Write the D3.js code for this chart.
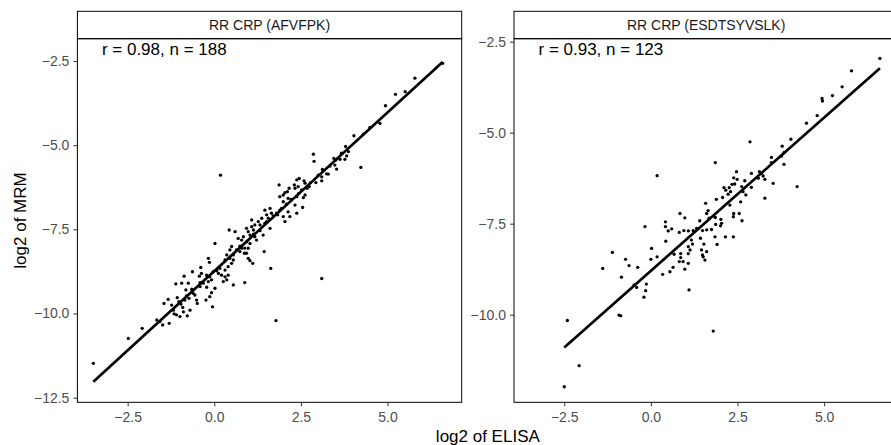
<!DOCTYPE html>
<html>
<head>
<meta charset="utf-8">
<script src="https://cdn.jsdelivr.net/npm/d3@7"></script>
<style>
  body { margin: 0; background: #fff; }
  text { font-family: "Liberation Sans", Arial, sans-serif; }
</style>
</head>
<body>
<div class="chart"></div>
<script>
let facetTitles = ['RR CRP (AFVFPK)', 'RR CRP (ESDTSYVSLK)']
let corLabels = ['r = 0.98, n = 188', 'r = 0.93, n = 123']

let xTicks = [-2.5, 0, 2.5, 5]
let yTicksLeft = [-12.5, -10, -7.5, -5, -2.5]
let yTicksRight = [-10, -7.5, -5, -2.5]

// AFVFPK: log2 ELISA vs log2 MRM
let afvfpkElisa = [
  -3.49,-2.48,-2.08,-1.66,-1.57,-1.49,-1.30,-1.45,-1.33,-1.23,-1.16,-1.09,-0.99,-1.11,-1.07,-1.02,-0.96,-0.91,
  -0.89,-0.85,-0.80,-0.78,-0.73,-0.70,-0.87,-0.75,-0.65,-0.63,-0.61,-0.51,-0.49,-0.43,-0.39,-0.56,-0.94,-0.82,
  -0.37,-0.41,-0.32,-0.22,-0.22,-0.17,-0.14,-0.17,-0.13,-0.08,-0.03,0.02,0.02,0.12,0.16,0.21,0.26,0.31,0.31,0.31,
  0.36,0.36,0.40,0.40,0.43,0.45,0.45,0.50,0.50,0.55,0.55,0.60,0.64,0.69,0.74,0.79,0.79,0.84,0.87,0.88,
  0.88,0.93,0.93,0.93,0.98,0.98,0.98,1.03,1.03,1.03,1.08,1.08,1.11,1.13,1.17,1.17,1.22,1.27,1.32,1.37,
  1.41,1.44,1.46,1.46,1.51,1.51,1.56,1.61,1.61,1.63,1.65,1.83,1.87,1.89,1.89,1.94,1.99,1.99,1.99,2.04,
  2.04,2.11,2.13,2.13,2.16,2.18,2.31,2.33,2.33,2.38,2.38,2.38,2.42,2.44,2.45,0.18,1.78,-0.24,-0.13,-0.05,-0.08,
  6.59,5.79,5.51,5.23,4.94,4.78,4.49,4.03,3.79,3.87,3.82,3.77,3.63,3.45,3.51,3.48,3.53,4.23,2.86,2.88,
  3.12,3.10,3.29,3.24,2.93,3.10,2.74,2.68,2.62,2.59,2.62,2.57,2.55,3.10,
  -1.18,-0.41,0.07,0.55,0.74,1.13,1.32,1.70,1.80,2.08,2.22,2.52,2.78,3.00,3.34,3.67,4.30
]
let afvfpkMrm = [
  -11.48,-10.74,-10.44,-10.19,-10.24,-10.34,-10.29,-9.70,-9.58,-9.75,-10.01,-10.04,-10.09,-9.12,-9.53,-9.65,-9.72,-9.82,
  -9.95,-9.60,-9.48,-10.07,-9.55,-9.90,-8.89,-9.10,-9.28,-8.76,-9.40,-9.60,-9.70,-8.89,-8.63,-9.45,-9.10,-9.30,
  -8.81,-9.20,-9.10,-8.86,-9.22,-8.36,-8.48,-9.05,-8.91,-9.00,-8.76,-9.25,-7.92,-8.81,-8.66,-8.86,-9.05,-8.41,-8.71,-8.91,
  -8.26,-9.00,-8.61,-8.86,-7.52,-8.11,-8.36,-8.01,-8.51,-8.41,-9.15,-7.57,-8.11,-7.77,-8.16,-7.82,-8.06,-7.72,-8.21,-8.06,
  -9.08,-7.47,-7.87,-8.21,-7.57,-8.06,-8.36,-7.67,-7.92,-8.43,-7.22,-7.42,-8.51,-7.52,-7.37,-7.72,-7.82,-7.27,-7.37,-7.17,
  -7.67,-8.16,-6.93,-7.32,-7.07,-7.27,-7.17,-6.88,-7.47,-8.66,-7.02,-7.07,-6.18,-6.53,-6.93,-6.88,-6.48,-6.68,-7.12,-6.41,
  -7.27,-6.38,-6.58,-6.98,-6.28,-7.12,-6.18,-6.28,-6.78,-6.03,-6.53,-7.02,-6.23,-6.43,-5.99,-5.89,-10.21,-9.60,-9.50,-9.80,-9.38,
  -2.57,-3.01,-3.41,-3.49,-3.83,-4.35,-4.48,-4.72,-5.04,-5.19,-5.32,-5.42,-5.42,-5.39,-5.44,-5.59,-5.71,-5.66,-5.27,-5.48,
  -5.72,-5.94,-5.86,-5.85,-6.11,-6.06,-6.23,-6.28,-6.13,-6.06,-6.48,-6.56,-6.85,-8.96,
  -9.90,-9.08,-8.73,-8.26,-8.00,-7.64,-7.54,-7.10,-7.02,-6.75,-6.61,-6.33,-6.11,-5.89,-5.62,-5.24,-4.67
]
let afvfpkFitX = [-3.49, 6.59]
let afvfpkFitY = [-12.03, -2.53]

// ESDTSYVSLK
let esdtElisa = [
  -2.50,-2.41,-2.07,-1.39,-1.11,-0.92,-0.87,-0.85,-0.73,-0.63,-0.48,-0.41,-0.38,-0.20,-0.15,-0.13,-0.17,0.02,0.00,0.18,
  0.18,0.34,0.42,0.42,0.43,0.50,0.55,0.60,0.64,0.67,0.82,0.84,0.86,0.86,0.82,0.95,0.98,0.98,0.93,1.08,
  1.08,1.08,1.08,1.10,1.17,1.20,1.41,1.43,1.49,1.53,1.49,1.51,1.56,1.58,1.61,1.61,1.65,1.61,1.68,1.80,
  1.86,1.89,1.86,1.91,1.87,2.02,2.04,2.01,2.07,2.11,2.16,2.23,2.15,2.28,2.30,2.34,2.39,2.38,2.38,2.39,
  2.42,2.47,2.49,2.55,2.59,2.62,2.66,2.63,2.74,2.86,2.90,2.90,3.10,3.13,3.19,3.24,3.29,3.29,3.48,3.53,
  3.48,3.77,3.79,3.84,3.84,4.04,4.22,4.49,4.80,4.94,4.95,5.24,5.52,5.79,6.61,1.75,1.32,1.22,1.46,1.85,
  1.13,2.71,2.26
]
let esdtMrm = [
  -11.98,-10.16,-11.40,-8.73,-8.29,-10.01,-10.03,-8.97,-8.48,-8.65,-9.18,-9.25,-8.70,-9.52,-9.34,-9.16,-7.58,-8.18,-8.48,-6.18,
  -8.41,-8.89,-7.45,-7.58,-7.98,-7.70,-8.82,-7.64,-8.70,-8.34,-7.74,-7.22,-8.32,-8.43,-8.54,-7.69,-7.34,-8.75,-8.54,-7.70,
  -8.13,-8.32,-8.59,-9.32,-7.95,-8.06,-7.42,-7.90,-7.69,-8.06,-8.36,-8.41,-8.50,-6.94,-7.67,-7.22,-7.14,-8.27,-7.35,-10.45,
  -5.82,-6.83,-7.33,-8.07,-7.52,-7.38,-7.49,-7.56,-6.78,-6.51,-6.58,-6.69,-7.86,-6.99,-6.62,-6.42,-7.22,-7.31,-7.86,-6.24,
  -6.41,-6.07,-6.28,-7.22,-6.90,-6.48,-6.62,-7.42,-6.71,-5.25,-6.12,-6.50,-6.25,-6.07,-6.12,-6.19,-6.80,-6.28,-5.68,-6.39,
  -5.82,-5.64,-5.37,-5.87,-5.55,-5.18,-6.48,-4.74,-4.53,-4.06,-4.13,-3.98,-3.74,-3.30,-2.96,-7.66,-7.63,-7.69,-8.22,-7.86,
  -8.22,-6.32,-6.51
]
let esdtFitX = [-2.50, 6.61]
let esdtFitY = [-10.90, -3.23]

let width = 891
let height = 445
let stripTop = 11.3
let panelTop = 38.7
let panelBottom = 402.3
let panelWidth = 384.3
let xDomain = [-3.95, 7.14]

let svg = d3.select('.chart')
            .append('svg')
            .attr('width', width)
            .attr('height', height)

let facets = [
  {title: facetTitles[0], xs: afvfpkElisa, ys: afvfpkMrm, fx: afvfpkFitX, fy: afvfpkFitY,
   label: corLabels[0], left: 77.4, yDomain: [-12.637, -1.838], yTicks: yTicksLeft},
  {title: facetTitles[1], xs: esdtElisa, ys: esdtMrm, fx: esdtFitX, fy: esdtFitY,
   label: corLabels[1], left: 514, yDomain: [-12.407, -2.418], yTicks: yTicksRight}
]

facets.forEach(f => {
  let xScale = d3.scaleLinear().domain(xDomain).range([f.left, f.left + panelWidth])
  let yScale = d3.scaleLinear().domain(f.yDomain).range([panelBottom, panelTop])
  let g = svg.append('g')

  // strip
  g.append('rect')
   .attr('x', f.left).attr('y', stripTop)
   .attr('width', panelWidth).attr('height', panelTop - stripTop)
   .attr('fill', '#fff').attr('stroke', '#000').attr('stroke-width', 1)
  g.append('text')
   .attr('x', f.left + panelWidth / 2).attr('y', (stripTop + panelTop) / 2)
   .attr('dy', '0.35em')
   .attr('text-anchor', 'middle')
   .attr('font-size', 14)
   .attr('fill', '#1a1a1a')
   .text(f.title)

  // points
  g.selectAll('circle')
   .data(f.xs.map((d, i) => [d, f.ys[i]]))
   .enter()
   .append('circle')
   .attr('cx', d => xScale(d[0]))
   .attr('cy', d => yScale(d[1]))
   .attr('r', 1.65)
   .attr('fill', '#000')

  // regression line
  g.append('path')
   .datum(f.fx.map((d, i) => [d, f.fy[i]]))
   .attr('fill', 'none')
   .attr('stroke', '#000')
   .attr('stroke-width', 2.7)
   .attr('d', d3.line().x(d => xScale(d[0])).y(d => yScale(d[1])))

  g.append('text')
   .attr('x', f.left + 24.5).attr('y', panelTop + 16.5)
   .attr('font-size', 17)
   .attr('fill', '#000')
   .text(f.label)

  // panel border
  g.append('rect')
   .attr('x', f.left).attr('y', panelTop)
   .attr('width', panelWidth).attr('height', panelBottom - panelTop)
   .attr('fill', 'none').attr('stroke', '#000').attr('stroke-width', 1)

  let xAxis = d3.axisBottom(xScale).tickValues(xTicks).tickSize(4).tickPadding(6)
                .tickFormat(d3.format('.1f'))
  let yAxis = d3.axisLeft(yScale).tickValues(f.yTicks).tickSize(4).tickPadding(4)
                .tickFormat(d3.format('.1f'))

  let gx = g.append('g').attr('transform', `translate(0, ${panelBottom})`).call(xAxis)
  let gy = g.append('g').attr('transform', `translate(${f.left}, 0)`).call(yAxis)
  ;[gx, gy].forEach(a => {
    a.select('.domain').remove()
    a.selectAll('line').attr('stroke', '#333')
    a.selectAll('text').attr('font-size', 14).attr('fill', '#4d4d4d')
      .style('font-family', '"Liberation Sans", Arial, sans-serif')
  })
})

svg.append('text')
   .attr('transform', `translate(20, ${(panelTop + panelBottom) / 2}) rotate(-90)`)
   .attr('text-anchor', 'middle')
   .attr('dy', '0.35em')
   .attr('font-size', 17)
   .text('log2 of MRM')

svg.append('text')
   .attr('x', (77.4 + 514 + panelWidth) / 2)
   .attr('y', 442)
   .attr('text-anchor', 'middle')
   .attr('font-size', 17)
   .text('log2 of ELISA')
</script>
</body>
</html>
